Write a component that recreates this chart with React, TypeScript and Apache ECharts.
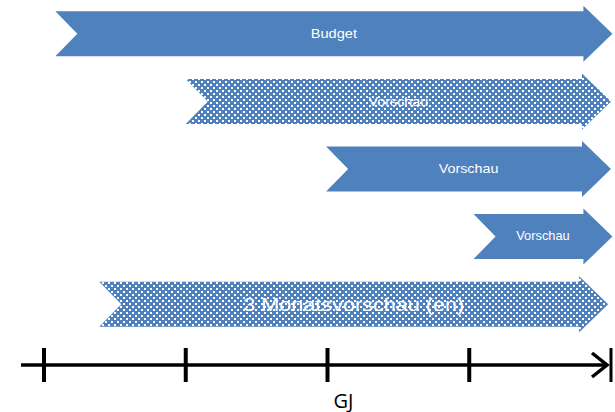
import React, { useEffect, useRef } from "react";
import * as echarts from "echarts";

// Rows (top to bottom)
const rowLabels = ["Budget", "Vorschau", "Vorschau", "Vorschau", "3 Monatsvorschau (en)"];
const rowStart = [0.08, 1.0, 1.99, 3.03, 0.39];
const rowEnd = [4.01, 4.0, 4.0, 4.01, 3.98];
const rowPatterned = [false, true, false, false, true];

// Time axis
const tickValues = [0, 1, 2, 3, 4];
const axisRange = [-0.162, 3.972];
const axisName = "GJ";

// styles (not data)
const rowFontSize = [13, 13, 13, 12, 18];
const rowScaleX = [1.12, 1.1, 1.1, 1.07, 1.2];
const BLUE = "#4F81BD";

function makePattern() {
  const c = document.createElement("canvas");
  c.width = 6;
  c.height = 6;
  const ctx = c.getContext("2d")!;
  ctx.fillStyle = BLUE;
  ctx.fillRect(0, 0, 6, 6);
  ctx.fillStyle = "#ffffff";
  ctx.fillRect(0, 0, 2, 2);
  ctx.fillRect(3, 3, 2, 2);
  return { image: c, repeat: "repeat", imageWidth: 6, imageHeight: 6 };
}

export default function App() {
  const ref = useRef<HTMLDivElement>(null);
  useEffect(() => {
    if (!ref.current) return;
    const chart = echarts.init(ref.current, null, { renderer: "svg" });
    const pattern = makePattern();

    const rowData = rowLabels.map((_, i) => [rowStart[i], rowEnd[i], i]);

    const option: any = {
      animation: false,
      grid: [
        { left: 44, right: 4, top: 0, height: 338 },
        { left: 44, right: 4, top: 348, height: 34 },
      ],
      xAxis: [
        { type: "value", gridIndex: 0, min: 0, max: 4, interval: 1, show: false },
        {
          type: "value",
          gridIndex: 1,
          min: 0,
          max: 4,
          interval: 1,
          position: "bottom",
          axisLine: { show: false },
          axisTick: { show: false },
          axisLabel: { show: false },
          splitLine: { show: false },
          name: axisName,
          nameLocation: "middle",
          nameGap: 8,
          nameTextStyle: {
            fontFamily: "Open Sans",
            fontSize: 20,
            lineHeight: 20,
            color: "#000",
            align: "left",
            padding: [0, 0, 0, 6],
          },
        },
      ],
      yAxis: [
        {
          type: "category",
          gridIndex: 0,
          data: rowLabels.map((_, i) => String(i)),
          inverse: true,
          show: false,
        },
        { type: "value", gridIndex: 1, min: 0, max: 1, inverse: true, show: false },
      ],
      series: [
        {
          type: "custom",
          xAxisIndex: 0,
          yAxisIndex: 0,
          clip: false,
          encode: { x: [0, 1], y: 2 },
          data: rowData,
          renderItem: (params: any, api: any) => {
            const i = params.dataIndex;
            const s = api.value(0);
            const e = api.value(1);
            const row = api.value(2);
            const p0 = api.coord([s, row]);
            const p1 = api.coord([e, row]);
            const band = api.size([0, 1])[1];
            const x0 = p0[0];
            const x1 = p1[0];
            const yc = p0[1];
            const bh = band * 0.333;
            const hh = band * 0.414;
            const headLen = 29;
            const notch = 22;
            const xb = x1 - headLen;
            const points = [
              [x0, yc - bh],
              [xb, yc - bh],
              [xb, yc - hh],
              [x1, yc],
              [xb, yc + hh],
              [xb, yc + bh],
              [x0, yc + bh],
              [x0 + notch, yc],
            ];
            return {
              type: "group",
              children: [
                {
                  type: "polygon",
                  shape: { points },
                  style: { fill: rowPatterned[i] ? pattern : BLUE },
                },
                {
                  type: "text",
                  x: (x0 + x1) / 2,
                  y: yc,
                  scaleX: rowScaleX[i],
                  style: {
                    text: rowLabels[i],
                    fill: "#ffffff",
                    fontFamily: "Liberation Sans",
                    fontSize: rowFontSize[i],
                    align: "center",
                    verticalAlign: "middle",
                  },
                },
              ],
            };
          },
        },
        {
          type: "custom",
          xAxisIndex: 1,
          yAxisIndex: 1,
          clip: false,
          data: [[axisRange[0], axisRange[1]]],
          encode: { x: [0, 1] },
          renderItem: (params: any, api: any) => {
            const a = api.coord([api.value(0), 0.5]);
            const b = api.coord([api.value(1), 0.5]);
            return {
              type: "group",
              children: [
                {
                  type: "line",
                  shape: { x1: a[0], y1: a[1], x2: b[0], y2: b[1] },
                  style: { stroke: "#000", lineWidth: 3.5 },
                },
                {
                  type: "polyline",
                  shape: {
                    points: [
                      [b[0] - 15, b[1] - 12],
                      [b[0], b[1]],
                      [b[0] - 15, b[1] + 12],
                    ],
                  },
                  style: { stroke: "#000", lineWidth: 3.5, fill: "none" },
                },
              ],
            };
          },
        },
        {
          type: "custom",
          xAxisIndex: 1,
          yAxisIndex: 1,
          clip: false,
          data: tickValues.map((v) => [v]),
          encode: { x: 0 },
          renderItem: (params: any, api: any) => {
            const v = api.value(0);
            const top = api.coord([v, 0]);
            const bot = api.coord([v, 1]);
            const last = params.dataIndex === tickValues.length - 1;
            return {
              type: "line",
              shape: { x1: top[0], y1: top[1], x2: bot[0], y2: bot[1] },
              style: { stroke: "#000", lineWidth: last ? 3 : 4 },
            };
          },
        },
      ],
    };
    chart.setOption(option);
    return () => chart.dispose();
  }, []);
  return (
    <div
      ref={ref}
      style={{ position: "fixed", left: 0, top: 0, width: 615, height: 412, background: "#fff" }}
    />
  );
}
